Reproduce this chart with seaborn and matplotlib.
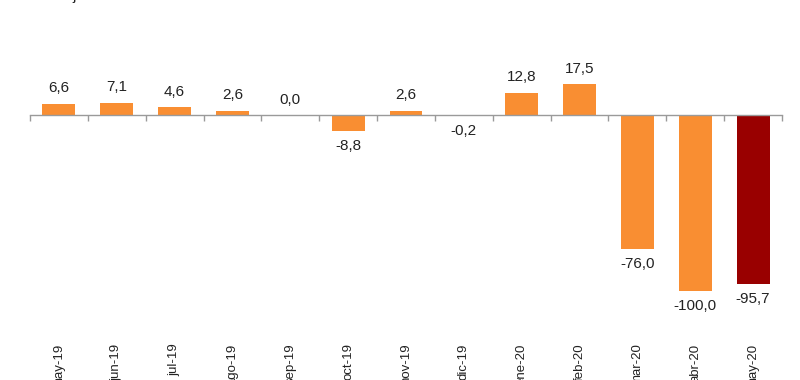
import matplotlib
matplotlib.use("Agg")
import matplotlib.pyplot as plt
import numpy as np
import seaborn as sns

months = ["may-19", "jun-19", "jul-19", "ago-19", "sep-19", "oct-19", "nov-19",
          "dic-19", "ene-20", "feb-20", "mar-20", "abr-20", "may-20"]
values = [6.6, 7.1, 4.6, 2.6, 0.0, -8.8, 2.6, -0.2, 12.8, 17.5, -76.0, -100.0, -95.7]
bar_colors = ["#F98E32"] * 12 + ["#990000"]

sns.set_theme(style="white")
plt.rcParams["font.family"] = ["Liberation Sans", "DejaVu Sans"]

fig = plt.figure(figsize=(8, 3.8), dpi=100)
ax = fig.add_axes([0.0375, 0.118, 0.94, 0.829])

sns.barplot(x=months, y=values, hue=months, palette=bar_colors, legend=False,
            width=0.57, saturation=1, linewidth=0, ax=ax)

ax.set_xlim(-0.5, len(months) - 0.5)
ax.set_ylim(-125, 54)

# axis line through zero with separators between categories
for side in ["top", "right", "left"]:
    ax.spines[side].set_visible(False)
ax.spines["bottom"].set_position(("data", 0))
ax.spines["bottom"].set_color("#9a9a9a")
ax.spines["bottom"].set_linewidth(1.0)
ax.set_xticks(np.arange(-0.5, len(months)), minor=True)
ax.tick_params(axis="x", which="major", bottom=False, length=0, labelbottom=False)
ax.tick_params(axis="x", which="minor", bottom=True, length=4, width=1,
               color="#9a9a9a", direction="out")
ax.set_yticks([])
ax.set_xlabel("")
ax.set_ylabel("")

# month labels at the bottom of the plot area
sec = ax.secondary_xaxis("bottom")
sec.set_xticks(range(len(months)))
sec.set_xticklabels(months, rotation=90, fontsize=9.5, color="#222222")
sec.tick_params(length=0, pad=6)
sec.spines["bottom"].set_visible(False)

for i, v in enumerate(values):
    off = 11 if v >= 0 else -11
    ax.annotate(f"{v:.1f}".replace(".", ","), (i, v), xytext=(0, off),
                textcoords="offset points", ha="center", va="center",
                fontsize=11, color="#222222")

fig.text(0.016, 0.992, "Porcentaje", ha="left", va="bottom", fontsize=11, color="#222222")

fig.savefig("out.png", dpi=100)
